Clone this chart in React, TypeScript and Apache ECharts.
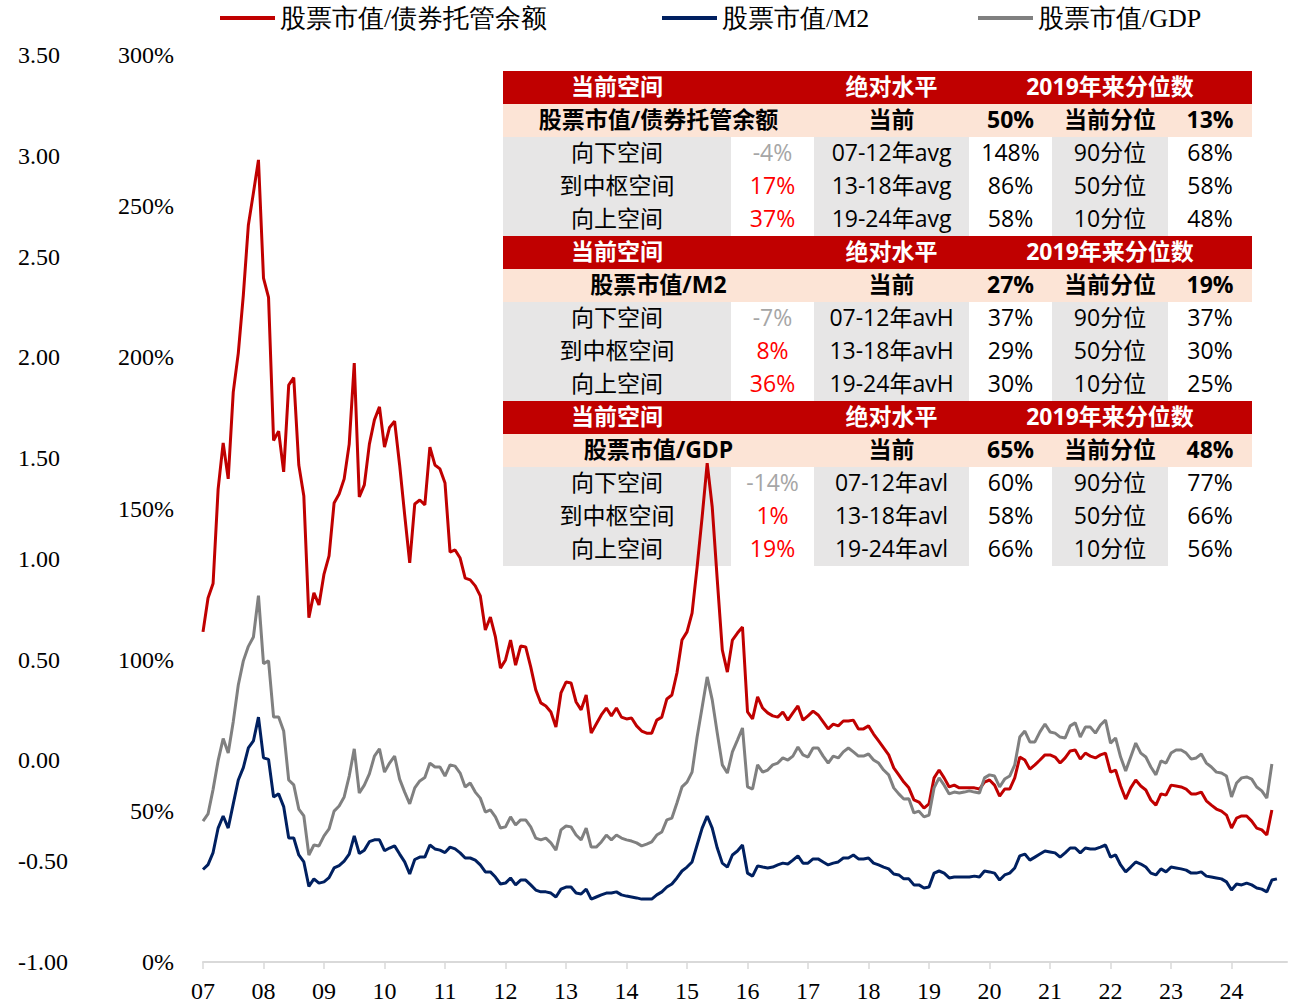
import React, { useEffect, useRef } from "react";
import * as echarts from "echarts";

// ---------- data ----------
const seriesNames = ["股票市值/债券托管余额", "股票市值/M2", "股票市值/GDP"];

const months: string[] = [];
for (let y = 2007; y <= 2024; y++) {
  for (let m = 1; m <= 12; m++) months.push(`${y}-${m < 10 ? "0" + m : m}`);
}

// 股票市值/债券托管余额 (%), Jan 2007 – Sep 2024
const bondRatio = [
  109.2, 120.4, 125.2, 156.4, 171.7, 159.8, 188.5, 201.4, 220.6, 243.8, 254.4, 265.3,
  226.2, 219.8, 172.5, 175.6, 162.1, 190.8, 193.3, 164.4, 154.1, 113.9, 122.1, 118.1,
  128.3, 134.3, 151.8, 154.8, 159.8, 171.3, 198.1, 153.8, 157.8, 171.3, 179.3, 183.6,
  170.3, 176.8, 178.9, 164.4, 147.9, 132.0, 151.5, 152.8, 151.2, 170.3, 164.4, 163.1,
  158.4, 135.6, 136.3, 133.6, 127.0, 126.4, 124.4, 121.1, 109.8, 114.1, 107.5, 97.2,
  99.9, 106.5, 98.2, 104.5, 104.2, 97.6, 90.0, 85.7, 84.7, 82.7, 77.7, 89.0,
  92.6, 92.3, 86.0, 83.4, 88.3, 75.7, 78.7, 81.7, 84.0, 81.4, 84.0, 81.0,
  80.4, 80.7, 78.1, 76.4, 75.7, 75.7, 80.0, 81.0, 87.0, 88.3, 95.6, 106.5,
  109.2, 115.4, 130.6, 147.2, 165.0, 150.5, 126.4, 103.2, 95.9, 106.5, 108.8, 110.8,
  82.7, 80.4, 87.7, 84.0, 82.4, 81.4, 81.0, 82.7, 80.0, 82.4, 84.7, 80.0,
  81.4, 83.0, 81.7, 79.4, 77.1, 78.7, 78.1, 79.7, 79.7, 80.0, 77.1, 77.1,
  78.1, 75.4, 73.1, 70.8, 68.5, 64.2, 61.9, 59.5, 57.6, 53.6, 52.9, 50.9,
  52.3, 60.9, 63.5, 60.9, 57.9, 58.5, 57.6, 57.6, 57.6, 57.6, 57.2, 59.5,
  60.2, 58.5, 54.9, 57.2, 57.2, 60.9, 67.8, 66.8, 63.8, 65.2, 66.8, 68.5,
  68.5, 67.8, 65.8, 67.5, 69.8, 70.1, 67.1, 69.1, 68.1, 67.5, 68.5, 69.1,
  62.8, 63.5, 58.2, 53.9, 57.6, 60.2, 58.2, 56.9, 53.6, 51.9, 55.6, 55.2,
  58.5, 58.2, 57.9, 57.2, 55.6, 55.6, 56.2, 53.3, 51.9, 50.6, 49.9, 48.6,
  44.3, 47.6, 48.3, 48.3, 46.6, 44.3, 43.7, 42.0, 50.3,
];

// 股票市值/M2 (%), Jan 2007 – Oct 2024
const m2Ratio = [
  30.6, 32.2, 36.2, 44.3, 48.3, 44.3, 52.3, 60.2, 64.3, 70.8, 73.1, 81.0,
  67.5, 67.0, 54.6, 55.6, 51.4, 41.0, 41.0, 35.4, 33.1, 25.0, 27.5, 26.1,
  26.5, 27.9, 31.1, 31.9, 33.4, 35.7, 41.7, 35.9, 37.0, 39.8, 40.4, 40.4,
  36.8, 37.7, 38.4, 35.7, 33.1, 29.1, 33.9, 34.7, 34.7, 38.7, 37.4, 37.0,
  36.2, 38.0, 37.4, 36.1, 34.4, 34.4, 33.7, 32.1, 29.8, 29.8, 28.1, 25.8,
  26.1, 27.8, 25.5, 27.1, 27.1, 25.5, 23.8, 23.2, 23.2, 22.8, 21.5, 24.1,
  24.8, 24.8, 22.8, 22.5, 24.1, 20.8, 21.5, 22.2, 22.8, 22.8, 23.2, 22.2,
  21.8, 21.5, 21.2, 20.8, 20.8, 20.8, 22.2, 23.2, 24.8, 25.8, 27.8, 30.1,
  31.4, 33.1, 38.7, 44.3, 48.3, 44.3, 37.7, 32.7, 31.4, 35.4, 36.7, 38.7,
  29.4, 28.4, 31.8, 31.4, 31.1, 31.4, 32.1, 32.7, 32.4, 33.7, 35.1, 32.7,
  32.7, 34.1, 34.1, 33.1, 32.1, 32.7, 33.1, 34.4, 34.4, 35.4, 34.1, 34.1,
  34.4, 32.7, 32.1, 31.4, 30.8, 29.1, 28.8, 27.5, 27.5, 25.5, 25.5, 24.5,
  24.8, 29.4, 30.1, 29.4, 27.8, 28.1, 28.1, 28.1, 28.1, 28.4, 28.1, 30.1,
  29.8, 29.4, 27.1, 28.8, 29.4, 31.1, 35.1, 35.7, 33.7, 34.7, 35.7, 36.7,
  36.4, 36.1, 34.7, 36.1, 37.7, 37.7, 36.1, 37.7, 37.4, 37.4, 38.0, 38.7,
  34.7, 35.4, 32.1, 29.8, 31.4, 33.1, 32.4, 31.4, 29.4, 28.8, 30.8, 29.8,
  31.4, 31.1, 30.8, 30.4, 29.4, 29.4, 29.8, 28.4, 28.1, 27.8, 27.5, 26.5,
  23.8, 25.8, 25.5, 26.1, 25.5, 24.5, 24.1, 23.2, 27.1, 27.5,
];

// 股票市值/GDP (%), Jan 2007 – Sep 2024
const gdpRatio = [
  46.6, 49.0, 57.1, 66.6, 73.9, 69.1, 79.5, 91.6, 99.6, 104.4, 107.5, 121.2,
  98.7, 99.6, 81.0, 81.0, 76.4, 60.2, 58.6, 50.6, 48.3, 35.4, 38.7, 38.4,
  41.7, 44.0, 49.9, 51.6, 54.6, 61.5, 70.5, 55.9, 58.5, 62.2, 68.1, 70.5,
  62.8, 65.8, 68.1, 60.5, 56.2, 52.3, 57.6, 59.9, 61.0, 65.8, 64.5, 64.5,
  61.5, 65.2, 64.8, 62.5, 57.9, 59.2, 56.2, 54.2, 49.6, 50.3, 48.0, 44.3,
  44.7, 48.0, 45.3, 47.0, 47.0, 44.7, 41.0, 40.4, 41.0, 39.4, 37.0, 43.7,
  45.0, 44.7, 42.0, 40.4, 44.3, 38.0, 38.0, 39.7, 42.0, 40.4, 42.0, 41.0,
  40.4, 40.0, 39.4, 38.4, 39.0, 39.7, 42.0, 43.0, 47.0, 47.6, 52.6, 57.9,
  59.5, 62.8, 74.4, 84.3, 94.3, 86.7, 75.7, 65.2, 62.5, 69.5, 73.4, 77.4,
  57.9, 57.2, 65.2, 62.8, 63.5, 65.2, 65.8, 67.5, 66.8, 68.1, 71.1, 68.5,
  67.8, 70.8, 70.8, 68.1, 65.8, 68.1, 67.5, 69.5, 70.8, 69.5, 68.1, 68.1,
  68.8, 66.8, 65.8, 63.5, 61.9, 57.6, 55.6, 53.9, 54.0, 49.3, 49.9, 48.0,
  48.6, 57.6, 60.9, 58.5, 55.6, 56.2, 55.9, 56.2, 56.6, 56.2, 55.9, 60.9,
  61.9, 61.5, 57.9, 60.5, 61.5, 65.2, 74.4, 76.4, 72.8, 72.8, 76.1, 78.7,
  76.1, 75.7, 74.4, 74.1, 78.1, 79.1, 74.4, 77.7, 77.7, 75.7, 78.4, 80.0,
  72.4, 74.1, 67.8, 63.2, 67.8, 72.4, 69.1, 67.8, 64.5, 61.9, 66.5, 65.8,
  69.1, 70.1, 70.1, 69.1, 67.1, 67.5, 68.8, 65.8, 64.5, 62.8, 62.5, 61.5,
  54.6, 59.2, 60.9, 61.2, 60.5, 57.9, 56.6, 54.2, 65.5,
];

// ---------- table texts ----------
const tableHeader = ["当前空间", "绝对水平", "2019年来分位数"];
const subHeaders = ["当前", "当前分位"];
const blockNames = ["股票市值/债券托管余额", "股票市值/M2", "股票市值/GDP"];
const blockCurrent = ["50%", "27%", "65%"];
const blockPercentile = ["13%", "19%", "48%"];
const rowLabels = ["向下空间", "到中枢空间", "向上空间"];
const spaceValues = [
  ["-4%", "17%", "37%"],
  ["-7%", "8%", "36%"],
  ["-14%", "1%", "19%"],
];
const periodLabels = [
  ["07-12年avg", "13-18年avg", "19-24年avg"],
  ["07-12年avH", "13-18年avH", "19-24年avH"],
  ["07-12年avl", "13-18年avl", "19-24年avl"],
];
const periodValues = [
  ["148%", "86%", "58%"],
  ["37%", "29%", "30%"],
  ["60%", "58%", "66%"],
];
const quantileLabels = ["90分位", "50分位", "10分位"];
const quantileValues = [
  ["68%", "58%", "48%"],
  ["37%", "30%", "25%"],
  ["77%", "66%", "56%"],
];

// ---------- styling ----------
const COLORS = ["#C00000", "#002060", "#808080"];
const SERIF = '"Liberation Serif", "Times New Roman", serif';
const SANS = '"Open Sans", "Noto Sans CJK SC", sans-serif';

function buildTable() {
  const colX = [503, 731, 814, 969, 1052, 1168, 1252];
  const top0 = 71;
  const rowH = 33;
  const fs = 23;
  const dy = -2;
  const center = (c: number) => (colX[c] + colX[c + 1]) / 2;
  const els: any[] = [];
  const txt = (text: string, x: number, y: number, fill: string, bold: boolean) => ({
    type: "text",
    x,
    y: y + dy,
    z: 1,
    style: {
      text,
      fill,
      font: `${bold ? "bold " : ""}${fs}px ${SANS}`,
      textAlign: "center",
      verticalAlign: "middle",
    },
  });
  for (let b = 0; b < 3; b++) {
    const top = top0 + b * 5 * rowH;
    const width = colX[6] - colX[0];
    els.push({ type: "rect", z: 0, shape: { x: colX[0], y: top, width, height: rowH }, style: { fill: "#C00000" } });
    els.push({ type: "rect", z: 0, shape: { x: colX[0], y: top + rowH, width, height: rowH }, style: { fill: "#FCE4D6" } });
    [0, 2, 4].forEach((c) => {
      els.push({
        type: "rect",
        z: 0,
        shape: { x: colX[c], y: top + 2 * rowH, width: colX[c + 1] - colX[c], height: 3 * rowH },
        style: { fill: "#E7E6E6" },
      });
    });
    const yh = top + rowH / 2;
    els.push(txt(tableHeader[0], center(0), yh, "#FFFFFF", true));
    els.push(txt(tableHeader[1], center(2), yh, "#FFFFFF", true));
    els.push(txt(tableHeader[2], center(4), yh, "#FFFFFF", true));
    const ys = top + rowH * 1.5;
    els.push(txt(blockNames[b], (colX[0] + colX[2]) / 2, ys, "#000000", true));
    els.push(txt(subHeaders[0], center(2), ys, "#000000", true));
    els.push(txt(blockCurrent[b], center(3), ys, "#000000", true));
    els.push(txt(subHeaders[1], center(4), ys, "#000000", true));
    els.push(txt(blockPercentile[b], center(5), ys, "#000000", true));
    for (let r = 0; r < 3; r++) {
      const yr = top + rowH * (2.5 + r);
      els.push(txt(rowLabels[r], center(0), yr, "#000000", false));
      els.push(txt(spaceValues[b][r], center(1), yr, r === 0 ? "#A6A6A6" : "#FF0000", false));
      els.push(txt(periodLabels[b][r], center(2), yr, "#000000", false));
      els.push(txt(periodValues[b][r], center(3), yr, "#000000", false));
      els.push(txt(quantileLabels[r], center(4), yr, "#000000", false));
      els.push(txt(quantileValues[b][r], center(5), yr, "#000000", false));
    }
  }
  return els;
}

export default function App() {
  const ref = useRef<HTMLDivElement>(null);
  useEffect(() => {
    if (!ref.current) return;
    const chart = echarts.init(ref.current, null, { renderer: "svg" });
    const legendCommon = {
      top: 5,
      padding: 0,
      itemWidth: 55,
      itemHeight: 4,
      itemGap: 0,
      icon: "rect",
      textStyle: { fontSize: 26, color: "#000", fontFamily: SERIF },
    };
    const yearTick = (index: number) => index % 12 === 0;
    chart.setOption({
      animation: false,
      backgroundColor: "#FFFFFF",
      legend: [
        { ...legendCommon, left: 220, data: [seriesNames[0]] },
        { ...legendCommon, left: 662, data: [seriesNames[1]] },
        { ...legendCommon, left: 978, data: [seriesNames[2]] },
      ],
      grid: { left: 203, right: 4, top: 55, bottom: 41 },
      xAxis: {
        type: "category",
        boundaryGap: false,
        data: months,
        axisLine: { lineStyle: { color: "#D9D9D9", width: 2 } },
        axisTick: { show: true, interval: yearTick, length: 7, lineStyle: { color: "#D9D9D9", width: 1.5 } },
        axisLabel: {
          interval: yearTick,
          formatter: (v: string) => v.slice(2, 4),
          fontSize: 24,
          color: "#000",
          fontFamily: SERIF,
          margin: 17,
        },
        splitLine: { show: false },
      },
      yAxis: [
        {
          type: "value",
          position: "left",
          min: 0,
          max: 300,
          interval: 50,
          axisLine: { show: false },
          axisTick: { show: false },
          splitLine: { show: false },
          axisLabel: {
            formatter: "{value}%",
            fontSize: 24,
            color: "#000",
            fontFamily: SERIF,
            margin: 29,
          },
        },
        {
          type: "value",
          position: "left",
          min: -1,
          max: 3.5,
          interval: 0.5,
          axisLine: { show: false },
          axisTick: { show: false },
          splitLine: { show: false },
          axisLabel: {
            formatter: (v: number) => v.toFixed(2),
            fontSize: 24,
            color: "#000",
            fontFamily: SERIF,
            align: "left",
            margin: 185,
          },
        },
      ],
      graphic: { elements: buildTable() },
      series: [
        { name: seriesNames[0], data: bondRatio, color: COLORS[0] },
        { name: seriesNames[1], data: m2Ratio, color: COLORS[1] },
        { name: seriesNames[2], data: gdpRatio, color: COLORS[2] },
      ].map((s) => ({
        ...s,
        type: "line",
        yAxisIndex: 0,
        showSymbol: false,
        symbol: "none",
        z: 5,
        lineStyle: { width: 3, color: s.color },
        itemStyle: { color: s.color },
        emphasis: { disabled: true },
      })),
    });
    return () => chart.dispose();
  }, []);
  return (
    <div
      ref={ref}
      style={{ position: "fixed", left: 0, top: 0, width: 1291, height: 1003, background: "#fff" }}
    />
  );
}
